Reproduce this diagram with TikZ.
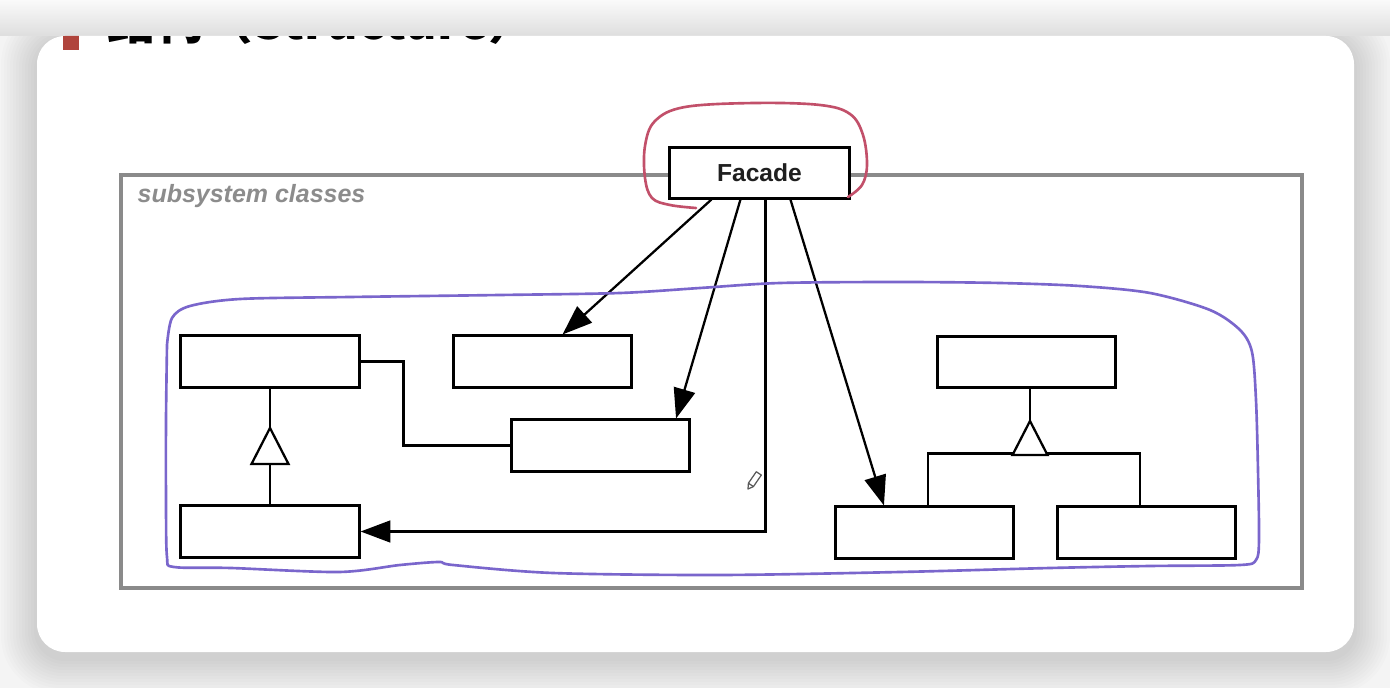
\documentclass[tikz,border=0pt]{standalone}
\usepackage{fontspec}
\usetikzlibrary{arrows.meta,calc}
\newfontfamily\lsans{Liberation Sans}
\newfontfamily\cjk{Noto Sans CJK SC}
\definecolor{bgc}{HTML}{F4F4F4}
\definecolor{framec}{HTML}{8A8A8A}
\definecolor{subc}{HTML}{8C8C8C}
\definecolor{redhand}{HTML}{C2506A}
\definecolor{purphand}{HTML}{7A66CC}
\definecolor{bullet}{HTML}{B0443C}
\begin{document}
\begin{tikzpicture}[x=0.01cm,y=-0.01cm,
  cls/.style={draw=black, line width=0.85pt, fill=white, minimum width=1.78cm, minimum height=0.51cm, inner sep=0pt},
  conn/.style={line width=0.65pt, draw=black},
  arr/.style={conn, -{Triangle[length=8.5pt,width=6.2pt]}},
  gen/.style={draw=black, line width=0.65pt, fill=white, line join=miter},
  hand/.style={line width=0.75pt, line cap=round, line join=round},
]
\useasboundingbox (0,0) rectangle (1390,688);
\fill[bgc] (0,0) rectangle (1390,688);
% shadow
\foreach \i in {1,...,12}{
  \pgfmathsetmacro\rr{0.28+0.025*\i}
  \fill[black,opacity=0.011,rounded corners=\rr cm] ({37-3*\i},{36-3*\i+6}) rectangle ({1354+3*\i},{652+3*\i+6});
}
% top band
\shade[top color=white!98!black, bottom color=white!87!black] (0,0) rectangle (1390,36);
% card
\fill[white, rounded corners=0.28cm] (37,36) rectangle (1354,652);
% title (clipped by the card)
\begin{scope}
  \clip[rounded corners=0.28cm] (37,36) rectangle (1354,652);
  \fill[bullet] (63,22) rectangle (79,50);
  \node[anchor=base west, inner sep=0pt, font=\cjk\bfseries\fontsize{13.8pt}{16pt}\selectfont] (title) at (107,40) {结构（Structure）};
\end{scope}

% subsystem frame
\draw[line width=1.1pt, draw=framec] (121,175) rectangle (1302,588);
\node[anchor=base west, inner sep=0pt, text=subc, font=\lsans\bfseries\itshape\fontsize{7.1pt}{8pt}\selectfont] (sub) at (137,203) {subsystem classes};

% facade
\node[cls, minimum width=1.79cm, minimum height=0.50cm, font=\lsans\bfseries\fontsize{7pt}{8pt}\selectfont, text=black!88] (facade) at (759.5,173) {Facade};

% subsystem classes
\node[cls] (A) at (270,361.5) {};
\node[cls] (B) at (542.5,361.5) {};
\node[cls] (C) at (600.5,445.5) {};
\node[cls] (D) at (270,531.5) {};
\node[cls] (E) at (1026.5,362) {};
\node[cls] (F) at (924.5,532.5) {};
\node[cls] (G) at (1146.5,532.5) {};

% association A -- C
\draw[conn] (A.east) -- ++(43,0) |- (C.west);

% generalization D -> A
\coordinate (t1apex) at (270,428);
\coordinate (t1base) at (270,464);
\draw[conn] (D.north) -- (t1base);
\draw[conn] (t1apex) -- (A.south);
\draw[gen] (t1apex) -- ($(t1base)+(-18.5,0)$) -- ($(t1base)+(18.5,0)$) -- cycle;

% generalization F,G -> E
\coordinate (t2apex) at (1030,421);
\coordinate (t2base) at (1030,455);
\draw[conn] ($(F.north west)+(94,0)$) |- ($(G.north west)+(84,-52)$) -- ($(G.north west)+(84,0)$);
\draw[conn] (t2apex) -- (t2apex |- E.south);
\draw[gen] (t2apex) -- ($(t2base)+(-17.5,0)$) -- ($(t2base)+(17.5,0)$) -- cycle;

% facade arrows
\draw[arr] ($(facade.south west)+(43,0)$) -- ($(B.north)+(20,0)$);
\draw[arr] ($(facade.south west)+(72,0)$) -- ($(C.north east)+(-15,0)$);
\draw[arr] ($(facade.south west)+(97,0)$) |- (D.east);
\draw[arr] ($(facade.south west)+(122,0)$) -- ($(F.north west)+(50,0)$);

% pencil cursor
\draw[black!65, line width=0.35pt, line join=round] (748,489) -- (753.4,486.6) -- (761.3,475.1) -- (756.3,471.7) -- (748.4,483.2) -- cycle;
\draw[black!65, line width=0.35pt] (753.4,486.6) -- (748.4,483.2);

% hand-drawn marks
\draw[hand, draw=redhand] plot[smooth, tension=0.6] coordinates {
  (696,208) (670,205) (652,198) (645,178) (645,146) (655,121) (685,107) (755,103) (820,105) (850,114) (863,135) (867,165) (862,185) (848,197)};
\draw[hand, draw=purphand] plot[smooth, tension=0.5] coordinates {
  (167,345) (172,318) (190,306) (240,299) (350,297) (500,295) (620,293) (700,288) (780,283) (900,282) (1000,283) (1080,286) (1150,293) (1210,310) (1240,330) (1252,352) (1256,400) (1258,470) (1259,540) (1256,560) (1240,565) (1150,566) (1050,568) (900,572) (720,575) (553,573) (453,565) (439,562) (400,565) (339,572) (231,568) (174,567) (167,557) (166,500) (166,420) (167,345)};
\end{tikzpicture}
\end{document}
